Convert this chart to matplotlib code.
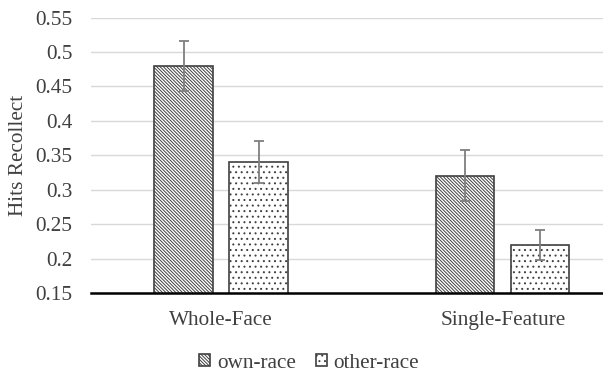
import numpy as np
import matplotlib.pyplot as plt

plt.rcParams["font.family"] = ["Liberation Serif", "DejaVu Serif"]
plt.rcParams["hatch.linewidth"] = 0.7

categories = ["Whole-Face", "Single-Feature"]
series = ["own-race", "other-race"]
own_race = [0.48, 0.32]
other_race = [0.34, 0.22]
own_err = [0.036, 0.037]
other_err = [0.030, 0.022]

fig = plt.figure(figsize=(6.03, 3.74), dpi=100)
ax = fig.add_axes([0.151, 0.2166, 0.849, 0.7366])

x = np.arange(len(categories))
width = 0.206
offset = 0.133

ax.bar(x - offset, own_race, width, color="white", edgecolor="#404040",
       linewidth=1.2, hatch="\\" * 10, label=series[0], zorder=2)
ax.bar(x + offset, other_race, width, color="white", edgecolor="#404040",
       linewidth=1.2, hatch="...", label=series[1], zorder=2)
ax.errorbar(x - offset, own_race, yerr=own_err, fmt="none", ecolor="#7f7f7f",
            elinewidth=1.3, capsize=3.5, capthick=1.3, zorder=3)
ax.errorbar(x + offset, other_race, yerr=other_err, fmt="none", ecolor="#7f7f7f",
            elinewidth=1.3, capsize=3.5, capthick=1.3, zorder=3)

ax.set_ylim(0.15, 0.55)
ax.set_xlim(-0.461, 1.355)
ax.set_yticks(np.arange(0.15, 0.551, 0.05))
ax.set_yticklabels(["0.15", "0.2", "0.25", "0.3", "0.35", "0.4", "0.45", "0.5", "0.55"])
ax.set_xticks(x)
ax.set_xticklabels(categories)
ax.tick_params(length=0, labelsize=15.3, colors="#404040")
ax.tick_params(axis="x", pad=13)
ax.tick_params(axis="y", pad=13.5)
ax.grid(axis="y", color="#d9d9d9", linewidth=1.0, zorder=0)
ax.set_axisbelow(True)
for side in ["top", "right", "left"]:
    ax.spines[side].set_visible(False)
ax.spines["bottom"].set_linewidth(1.8)
ax.spines["bottom"].set_color("black")
ax.spines["bottom"].set_zorder(4)

ax.set_ylabel("Hits Recollect", fontsize=15.3, color="#404040")
ax.yaxis.set_label_coords(-0.124, 0.5)

fig.legend(loc="center", bbox_to_anchor=(0.513, 0.029), ncol=2, frameon=False,
           fontsize=15.3, handlelength=0.5, handleheight=0.5, handletextpad=0.33,
           columnspacing=0.94, labelcolor="#404040")

fig.savefig("out.png", dpi=100)
